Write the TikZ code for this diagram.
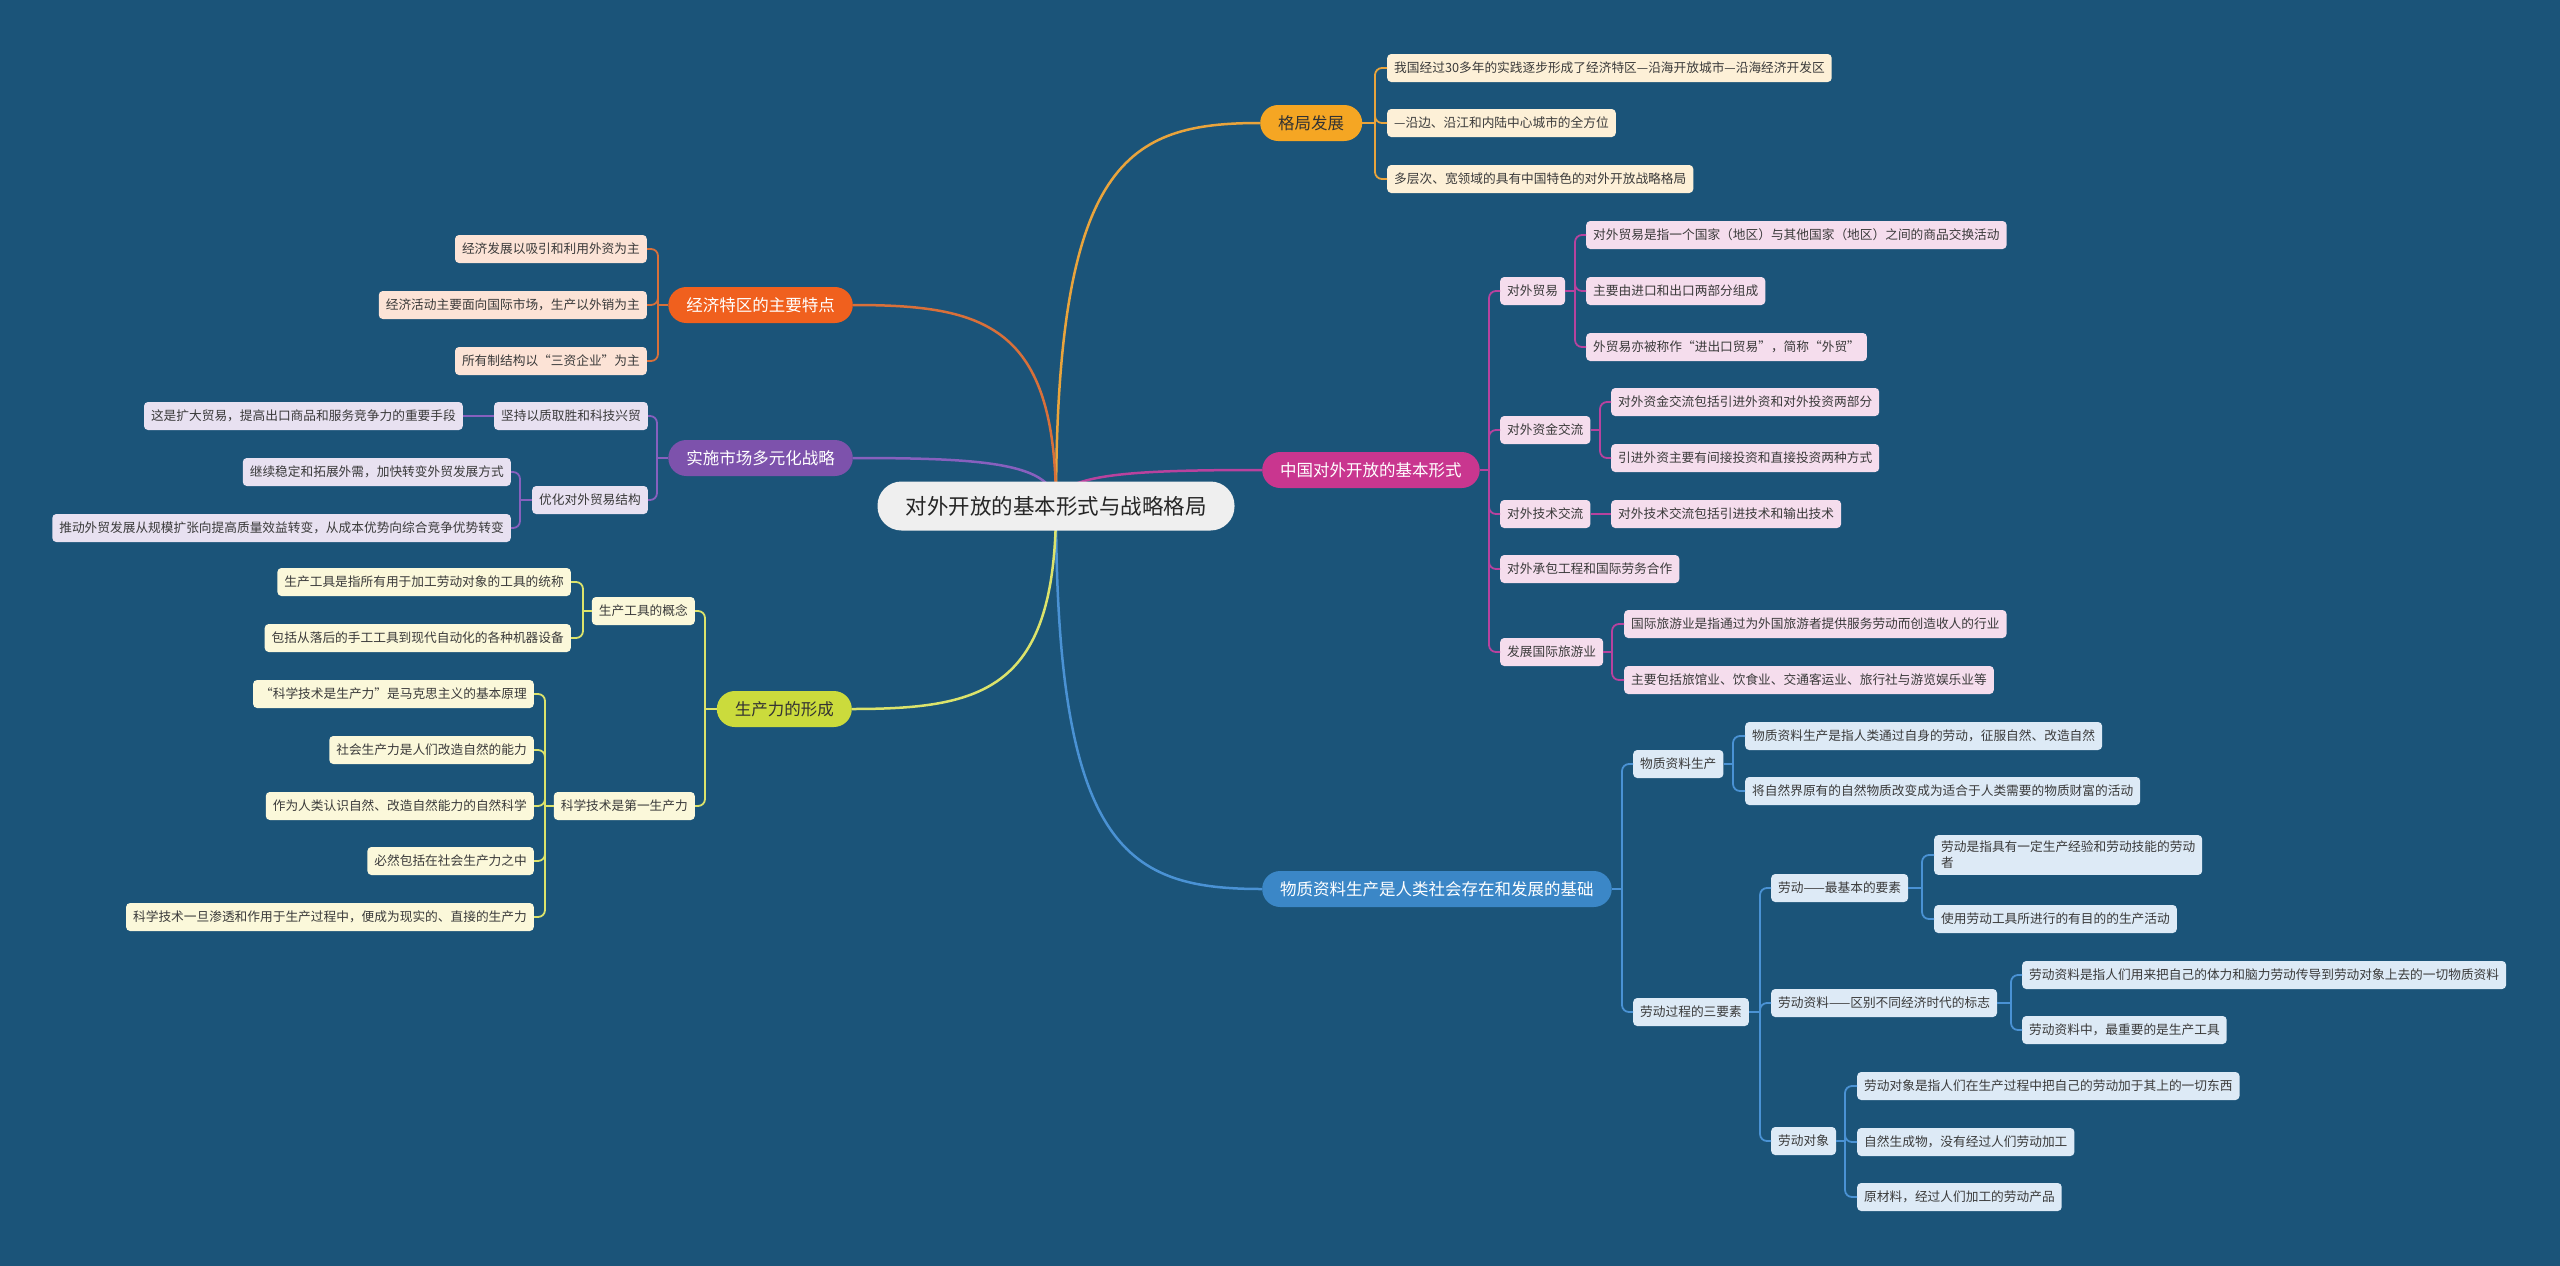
\documentclass[tikz,border=0pt]{standalone}
\usepackage{fontspec}
\setmainfont{Noto Sans CJK SC}
\usetikzlibrary{backgrounds}
\definecolor{bgblue}{HTML}{1B5479}
\definecolor{rootgray}{HTML}{EFEFEF}
\definecolor{gjfill}{HTML}{F5A623}
\definecolor{gjline}{HTML}{E9A43C}
\definecolor{gjleaf}{HTML}{FDF0D7}
\definecolor{tqfill}{HTML}{F0601E}
\definecolor{tqline}{HTML}{D8703A}
\definecolor{tqleaf}{HTML}{FCE3D6}
\definecolor{dyfill}{HTML}{7D52AC}
\definecolor{dyline}{HTML}{8760BE}
\definecolor{dyleaf}{HTML}{E8E1F1}
\definecolor{scfill}{HTML}{CBDB3C}
\definecolor{scline}{HTML}{DCE36B}
\definecolor{scleaf}{HTML}{FBF8DA}
\definecolor{jbfill}{HTML}{C9368F}
\definecolor{jbline}{HTML}{B8429E}
\definecolor{jbleaf}{HTML}{F5DDED}
\definecolor{wzfill}{HTML}{3B87C7}
\definecolor{wzline}{HTML}{4A92D4}
\definecolor{wzleaf}{HTML}{DDEAF6}
\definecolor{leaftext}{HTML}{3A3A3A}

\begin{document}
\begin{tikzpicture}[x=1pt, y=-1pt,
  rootbox/.style={fill=rootgray, rounded corners=24pt, minimum height=49pt,
    inner xsep=28pt, font=\fontsize{21.5}{24}\selectfont, text=black!85},
  mainbox/.style={rounded corners=18pt, minimum height=36pt, inner xsep=18pt,
    font=\fontsize{16.5}{19}\selectfont, text=white},
  leaf/.style={rounded corners=4pt, minimum height=28pt, inner xsep=7pt,
    font=\fontsize{12.7}{16}\selectfont, text=leaftext},
  trunk/.style={line width=2.5pt},
  twig/.style={line width=1.8pt, rounded corners=7pt},
]
\useasboundingbox (0,0) rectangle (2560,1266);
% centre
\node[rootbox] (root) at (1056,506) {对外开放的基本形式与战略格局};

% main topics
\node[mainbox, fill=gjfill, text=black!80, anchor=west] (gj) at (1260,123) {格局发展};
\node[mainbox, fill=jbfill, anchor=west] (jb) at (1262,470) {中国对外开放的基本形式};
\node[mainbox, fill=wzfill, anchor=west] (wz) at (1262,889) {物质资料生产是人类社会存在和发展的基础};
\node[mainbox, fill=tqfill, anchor=east] (tq) at (853,305) {经济特区的主要特点};
\node[mainbox, fill=dyfill, anchor=east] (dy) at (853,458) {实施市场多元化战略};
\node[mainbox, fill=scfill, text=black!80, anchor=east] (sc) at (852,709) {生产力的形成};

\begin{scope}[on background layer]
\fill[bgblue] (0,0) rectangle (2560,1266);
\draw[trunk, gjline] (root.center) .. controls (1056,161) and (1127,123) .. (gj.west);
\draw[trunk, jbline] (root.center) .. controls (1056,474) and (1128,470) .. (jb.west);
\draw[trunk, wzline] (root.center) .. controls (1056,851) and (1128,889) .. (wz.west);
\draw[trunk, tqline] (root.center) .. controls (1056,325) and (985,305) .. (tq.east);
\draw[trunk, dyline] (root.center) .. controls (1056,463) and (985,458) .. (dy.east);
\draw[trunk, scline] (root.center) .. controls (1056,689) and (985,709) .. (sc.east);
\end{scope}

% 格局发展
\node[leaf, fill=gjleaf, anchor=west] (gj1) at (1387,68) {我国经过30多年的实践逐步形成了经济特区—沿海开放城市—沿海经济开发区};
\node[leaf, fill=gjleaf, anchor=west] (gj2) at (1387,123) {—沿边、沿江和内陆中心城市的全方位};
\node[leaf, fill=gjleaf, anchor=west] (gj3) at (1387,179) {多层次、宽领域的具有中国特色的对外开放战略格局};
\coordinate (gjb) at (1375,123);
\draw[twig, gjline] (gj.east) -- (gjb);
\draw[twig, gjline] (gjb) |- (gj1.west);
\draw[twig, gjline] (gjb) |- (gj2.west);
\draw[twig, gjline] (gjb) |- (gj3.west);

% 中国对外开放的基本形式
\node[leaf, fill=jbleaf, anchor=west] (jb1) at (1500,291) {对外贸易};
\node[leaf, fill=jbleaf, anchor=west] (jb2) at (1500,430) {对外资金交流};
\node[leaf, fill=jbleaf, anchor=west] (jb3) at (1500,514) {对外技术交流};
\node[leaf, fill=jbleaf, anchor=west] (jb4) at (1500,569) {对外承包工程和国际劳务合作};
\node[leaf, fill=jbleaf, anchor=west] (jb5) at (1500,652) {发展国际旅游业};
\coordinate (jbb) at (1489,470);
\draw[twig, jbline] (jb.east) -- (jbb);
\draw[twig, jbline] (jbb) |- (jb1.west);
\draw[twig, jbline] (jbb) |- (jb2.west);
\draw[twig, jbline] (jbb) |- (jb3.west);
\draw[twig, jbline] (jbb) |- (jb4.west);
\draw[twig, jbline] (jbb) |- (jb5.west);
\node[leaf, fill=jbleaf, anchor=west] (jb11) at (1586,235) {对外贸易是指一个国家（地区）与其他国家（地区）之间的商品交换活动};
\node[leaf, fill=jbleaf, anchor=west] (jb12) at (1586,291) {主要由进口和出口两部分组成};
\node[leaf, fill=jbleaf, anchor=west] (jb13) at (1586,347) {外贸易亦被称作“进出口贸易”，简称“外贸”};
\coordinate (jb1b) at (1575,291);
\draw[twig, jbline] (jb1.east) -- (jb1b);
\draw[twig, jbline] (jb1b) |- (jb11.west);
\draw[twig, jbline] (jb1b) |- (jb12.west);
\draw[twig, jbline] (jb1b) |- (jb13.west);
\node[leaf, fill=jbleaf, anchor=west] (jb21) at (1611,402) {对外资金交流包括引进外资和对外投资两部分};
\node[leaf, fill=jbleaf, anchor=west] (jb22) at (1611,458) {引进外资主要有间接投资和直接投资两种方式};
\coordinate (jb2b) at (1600,430);
\draw[twig, jbline] (jb2.east) -- (jb2b);
\draw[twig, jbline] (jb2b) |- (jb21.west);
\draw[twig, jbline] (jb2b) |- (jb22.west);
\node[leaf, fill=jbleaf, anchor=west] (jb31) at (1611,514) {对外技术交流包括引进技术和输出技术};
\draw[twig, jbline] (jb3.east) -- (jb31.west);
\node[leaf, fill=jbleaf, anchor=west] (jb51) at (1624,624) {国际旅游业是指通过为外国旅游者提供服务劳动而创造收人的行业};
\node[leaf, fill=jbleaf, anchor=west] (jb52) at (1624,680) {主要包括旅馆业、饮食业、交通客运业、旅行社与游览娱乐业等};
\coordinate (jb5b) at (1612,652);
\draw[twig, jbline] (jb5.east) -- (jb5b);
\draw[twig, jbline] (jb5b) |- (jb51.west);
\draw[twig, jbline] (jb5b) |- (jb52.west);

% 物质资料生产是人类社会存在和发展的基础
\node[leaf, fill=wzleaf, anchor=west] (wz1) at (1633,764) {物质资料生产};
\node[leaf, fill=wzleaf, anchor=west] (wz2) at (1633,1012) {劳动过程的三要素};
\coordinate (wzb) at (1622,889);
\draw[twig, wzline] (wz.east) -- (wzb);
\draw[twig, wzline] (wzb) |- (wz1.west);
\draw[twig, wzline] (wzb) |- (wz2.west);
\node[leaf, fill=wzleaf, anchor=west] (wz11) at (1745,736) {物质资料生产是指人类通过自身的劳动，征服自然、改造自然};
\node[leaf, fill=wzleaf, anchor=west] (wz12) at (1745,791) {将自然界原有的自然物质改变成为适合于人类需要的物质财富的活动};
\coordinate (wz1b) at (1733,764);
\draw[twig, wzline] (wz1.east) -- (wz1b);
\draw[twig, wzline] (wz1b) |- (wz11.west);
\draw[twig, wzline] (wz1b) |- (wz12.west);
\node[leaf, fill=wzleaf, anchor=west] (wz21) at (1771,888) {劳动——最基本的要素};
\node[leaf, fill=wzleaf, anchor=west] (wz22) at (1771,1003) {劳动资料——区别不同经济时代的标志};
\node[leaf, fill=wzleaf, anchor=west] (wz23) at (1771,1141) {劳动对象};
\coordinate (wz2b) at (1760,1012);
\draw[twig, wzline] (wz2.east) -- (wz2b);
\draw[twig, wzline] (wz2b) |- (wz21.west);
\draw[twig, wzline] (wz2b) |- (wz22.west);
\draw[twig, wzline] (wz2b) |- (wz23.west);
\node[leaf, fill=wzleaf, anchor=west, align=left, inner ysep=6pt] (wz211) at (1934,855) {劳动是指具有一定生产经验和劳动技能的劳动\\者};
\node[leaf, fill=wzleaf, anchor=west] (wz212) at (1934,919) {使用劳动工具所进行的有目的的生产活动};
\coordinate (wz21b) at (1922,888);
\draw[twig, wzline] (wz21.east) -- (wz21b);
\draw[twig, wzline] (wz21b) |- (wz211.west);
\draw[twig, wzline] (wz21b) |- (wz212.west);
\node[leaf, fill=wzleaf, anchor=west] (wz221) at (2022,975) {劳动资料是指人们用来把自己的体力和脑力劳动传导到劳动对象上去的一切物质资料};
\node[leaf, fill=wzleaf, anchor=west] (wz222) at (2022,1030) {劳动资料中，最重要的是生产工具};
\coordinate (wz22b) at (2011,1003);
\draw[twig, wzline] (wz22.east) -- (wz22b);
\draw[twig, wzline] (wz22b) |- (wz221.west);
\draw[twig, wzline] (wz22b) |- (wz222.west);
\node[leaf, fill=wzleaf, anchor=west] (wz231) at (1857,1086) {劳动对象是指人们在生产过程中把自己的劳动加于其上的一切东西};
\node[leaf, fill=wzleaf, anchor=west] (wz232) at (1857,1142) {自然生成物，没有经过人们劳动加工};
\node[leaf, fill=wzleaf, anchor=west] (wz233) at (1857,1197) {原材料，经过人们加工的劳动产品};
\coordinate (wz23b) at (1845,1141);
\draw[twig, wzline] (wz23.east) -- (wz23b);
\draw[twig, wzline] (wz23b) |- (wz231.west);
\draw[twig, wzline] (wz23b) |- (wz232.west);
\draw[twig, wzline] (wz23b) |- (wz233.west);

% 经济特区的主要特点
\node[leaf, fill=tqleaf, anchor=east] (tq1) at (647,249) {经济发展以吸引和利用外资为主};
\node[leaf, fill=tqleaf, anchor=east] (tq2) at (647,305) {经济活动主要面向国际市场，生产以外销为主};
\node[leaf, fill=tqleaf, anchor=east] (tq3) at (647,361) {所有制结构以“三资企业”为主};
\coordinate (tqb) at (658,305);
\draw[twig, tqline] (tq.west) -- (tqb);
\draw[twig, tqline] (tqb) |- (tq1.east);
\draw[twig, tqline] (tqb) |- (tq2.east);
\draw[twig, tqline] (tqb) |- (tq3.east);

% 实施市场多元化战略
\node[leaf, fill=dyleaf, anchor=east] (dy1) at (648,416) {坚持以质取胜和科技兴贸};
\node[leaf, fill=dyleaf, anchor=east] (dy2) at (648,500) {优化对外贸易结构};
\coordinate (dyb) at (657,458);
\draw[twig, dyline] (dy.west) -- (dyb);
\draw[twig, dyline] (dyb) |- (dy1.east);
\draw[twig, dyline] (dyb) |- (dy2.east);
\node[leaf, fill=dyleaf, anchor=east] (dy11) at (463,416) {这是扩大贸易，提高出口商品和服务竞争力的重要手段};
\draw[twig, dyline] (dy1.west) -- (dy11.east);
\node[leaf, fill=dyleaf, anchor=east] (dy21) at (511,472) {继续稳定和拓展外需，加快转变外贸发展方式};
\node[leaf, fill=dyleaf, anchor=east] (dy22) at (511,528) {推动外贸发展从规模扩张向提高质量效益转变，从成本优势向综合竞争优势转变};
\coordinate (dy2b) at (520,500);
\draw[twig, dyline] (dy2.west) -- (dy2b);
\draw[twig, dyline] (dy2b) |- (dy21.east);
\draw[twig, dyline] (dy2b) |- (dy22.east);

% 生产力的形成
\node[leaf, fill=scleaf, anchor=east] (sc1) at (695,611) {生产工具的概念};
\node[leaf, fill=scleaf, anchor=east] (sc2) at (695,806) {科学技术是第一生产力};
\coordinate (scb) at (705,709);
\draw[twig, scline] (sc.west) -- (scb);
\draw[twig, scline] (scb) |- (sc1.east);
\draw[twig, scline] (scb) |- (sc2.east);
\node[leaf, fill=scleaf, anchor=east] (sc11) at (571,582) {生产工具是指所有用于加工劳动对象的工具的统称};
\node[leaf, fill=scleaf, anchor=east] (sc12) at (571,638) {包括从落后的手工工具到现代自动化的各种机器设备};
\coordinate (sc1b) at (583,611);
\draw[twig, scline] (sc1.west) -- (sc1b);
\draw[twig, scline] (sc1b) |- (sc11.east);
\draw[twig, scline] (sc1b) |- (sc12.east);
\node[leaf, fill=scleaf, anchor=east] (sc21) at (534,694) {“科学技术是生产力”是马克思主义的基本原理};
\node[leaf, fill=scleaf, anchor=east] (sc22) at (534,750) {社会生产力是人们改造自然的能力};
\node[leaf, fill=scleaf, anchor=east] (sc23) at (534,806) {作为人类认识自然、改造自然能力的自然科学};
\node[leaf, fill=scleaf, anchor=east] (sc24) at (534,861) {必然包括在社会生产力之中};
\node[leaf, fill=scleaf, anchor=east] (sc25) at (534,917) {科学技术一旦渗透和作用于生产过程中，便成为现实的、直接的生产力};
\coordinate (sc2b) at (545,806);
\draw[twig, scline] (sc2.west) -- (sc2b);
\draw[twig, scline] (sc2b) |- (sc21.east);
\draw[twig, scline] (sc2b) |- (sc22.east);
\draw[twig, scline] (sc2b) |- (sc23.east);
\draw[twig, scline] (sc2b) |- (sc24.east);
\draw[twig, scline] (sc2b) |- (sc25.east);
\end{tikzpicture}
\end{document}
